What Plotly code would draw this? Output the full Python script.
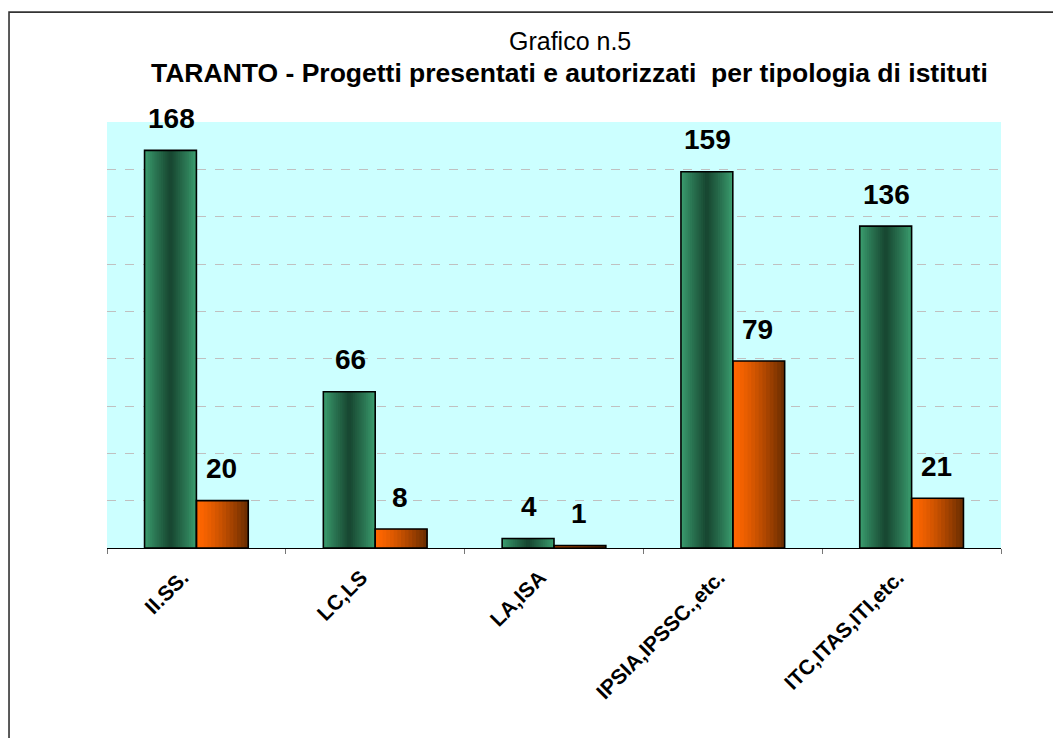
import plotly.graph_objects as go

categories = ["II.SS.", "LC,LS", "LA,ISA", "IPSIA,IPSSC.,etc.", "ITC,ITAS,ITI,etc."]
presentati = [168, 66, 4, 159, 136]
autorizzati = [20, 8, 1, 79, 21]
title_line1 = "Grafico n.5"
title_line2 = "TARANTO - Progetti presentati e autorizzati  per tipologia di istituti"

FONT = "Arial, Liberation Sans, sans-serif"
W = 0.29  # bar width in category units


def lerp(c1, c2, t):
    return "rgb(%d,%d,%d)" % tuple(round(a + (b - a) * t) for a, b in zip(c1, c2))


fig = go.Figure()

# green bars: light edges, dark center (nested strips)
N = 14
g_edge = (58, 156, 110)
g_mid = (24, 72, 50)
base_g = -W
for i in range(N):
    dw = W / 2 / N * i
    t = i / (N - 1)
    fig.add_trace(go.Bar(
        x=categories, y=presentati, width=W - 2 * dw, offset=base_g + dw,
        marker=dict(color=lerp(g_edge, g_mid, t ** 0.9), line=dict(width=0)),
        hoverinfo="skip", showlegend=False))

# orange bars: bright left to dark right
o_left = (255, 102, 0)
o_right = (110, 46, 0)
base_o = 0.0
for i in range(N):
    dw = W / N * i
    t = i / (N - 1)
    fig.add_trace(go.Bar(
        x=categories, y=autorizzati, width=W - dw, offset=base_o + dw,
        marker=dict(color=lerp(o_left, o_right, t ** 1.3), line=dict(width=0)),
        hoverinfo="skip", showlegend=False))

# outlines
for vals, base in ((presentati, base_g), (autorizzati, base_o)):
    fig.add_trace(go.Bar(
        x=categories, y=vals, width=W, offset=base,
        marker=dict(color="rgba(0,0,0,0)", line=dict(color="black", width=1.6)),
        showlegend=False))

# value labels
for vals, xs in ((presentati, -25), (autorizzati, 25)):
    for c, v in zip(categories, vals):
        fig.add_annotation(x=c, y=v, xref="x", yref="y", text=str(v), showarrow=False,
                           xshift=xs, yshift=32, yanchor="middle",
                           font=dict(family=FONT, size=28, color="black", weight="bold"))

# titles
fig.add_annotation(x=0.518, y=1.19, xref="paper", yref="paper", text=title_line1,
                   showarrow=False, yanchor="middle",
                   font=dict(family=FONT, size=25, color="black"))
fig.add_annotation(x=0.517, y=1.115, xref="paper", yref="paper", text="<b>" + title_line2 + "</b>",
                   showarrow=False, yanchor="middle",
                   font=dict(family=FONT, size=26.5, color="black"))

# outer border
fig.add_shape(type="rect", xref="paper", yref="paper",
              x0=-0.1096, x1=1.3, y0=-0.6, y1=1.258,
              line=dict(color="#333333", width=1.6), layer="below")

fig.update_layout(
    width=1061, height=738,
    margin=dict(l=99, r=68, t=114, b=198),
    paper_bgcolor="white", plot_bgcolor="#ccffff",
    barmode="overlay", showlegend=False,
    font=dict(family=FONT, color="black"),
)
fig.update_xaxes(
    type="category", tickson="boundaries", ticks="outside", ticklen=5,
    tickcolor="#777777", tickwidth=1,
    showline=True, linecolor="black", linewidth=1,
    tickangle=-45, tickfont=dict(family=FONT, size=21, color="black", weight="bold"),
    ticklabelstandoff=8, ticklabelshift=-14, showgrid=False,
)
fig.update_yaxes(
    range=[0, 180], dtick=20, showticklabels=False, showgrid=True,
    gridcolor="#c0c0c0", griddash="dash", gridwidth=1, zeroline=False, showline=False,
)

fig.write_html("out.html")
